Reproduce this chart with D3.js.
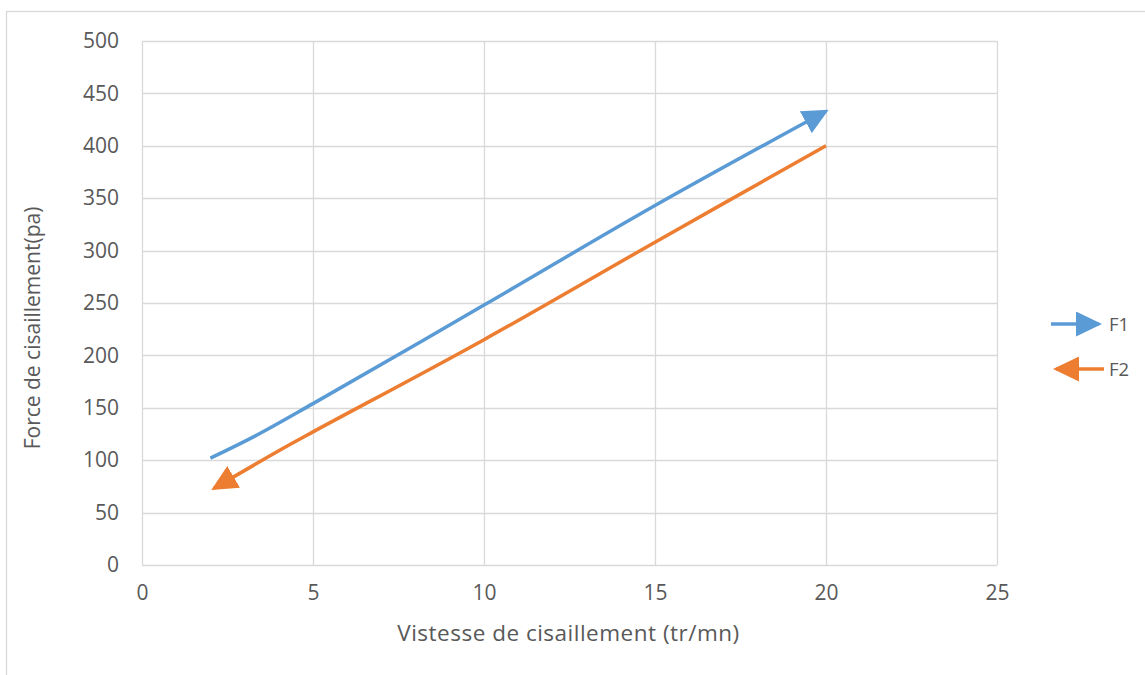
<!DOCTYPE html>
<html>
<head>
<meta charset="utf-8">
<script src="https://cdn.jsdelivr.net/npm/d3@7"></script>
<style>
  html, body { margin: 0; padding: 0; background: #ffffff; }
  svg { display: block; font-family: "Open Sans", "Noto Sans", sans-serif; }
</style>
</head>
<body>
<svg id="chart" width="1145" height="675"></svg>
<script>
// ---- data ----
const seriesNames = ["F1", "F2"];
const f1X = [2, 3.3, 5, 10, 15, 20];
const f1Y = [102, 123, 154, 248, 343, 433];
const f2X = [20, 15, 10, 5, 4, 2.1];
const f2Y = [400, 308, 215, 127, 109, 73];
const xTicks = [0, 5, 10, 15, 20, 25];
const yTicks = [0, 50, 100, 150, 200, 250, 300, 350, 400, 450, 500];
const xTitle = "Vistesse de cisaillement (tr/mn)";
const yTitle = "Force de cisaillement(pa)";

// ---- layout ----
const colors = ["#5b9bd5", "#ed7d31"];
const textColor = "#595959";
const gridColor = "#d9d9d9";
const svg = d3.select("#chart");
const plot = { left: 142, top: 41, right: 997, bottom: 565 };

const x = d3.scaleLinear().domain([0, 25]).range([plot.left, plot.right]);
const y = d3.scaleLinear().domain([0, 500]).range([plot.bottom, plot.top]);

// outer chart border (extends beyond the visible area on right/bottom)
svg.append("rect")
  .attr("x", 6.5).attr("y", 11.5)
  .attr("width", 1300).attr("height", 800)
  .attr("fill", "none").attr("stroke", gridColor).attr("stroke-width", 1.3);

// markers
const defs = svg.append("defs");
colors.forEach((c, i) => {
  defs.append("marker")
    .attr("id", "arrow" + i)
    .attr("markerUnits", "userSpaceOnUse")
    .attr("viewBox", "0 0 26 25")
    .attr("markerWidth", 26).attr("markerHeight", 25)
    .attr("refX", 23).attr("refY", 12.5)
    .attr("orient", "auto")
    .append("path")
    .attr("d", "M0,0 L26,12.5 L0,25 Z")
    .attr("fill", c);
});

// grid
const grid = svg.append("g");
grid.selectAll("line.h").data(yTicks).enter().append("line")
  .attr("x1", plot.left).attr("x2", plot.right)
  .attr("y1", d => Math.round(y(d)) + 0.5).attr("y2", d => Math.round(y(d)) + 0.5)
  .attr("stroke", gridColor).attr("stroke-width", 1.3);
grid.selectAll("line.v").data(xTicks).enter().append("line")
  .attr("y1", plot.top).attr("y2", plot.bottom)
  .attr("x1", d => Math.round(x(d)) + 0.5).attr("x2", d => Math.round(x(d)) + 0.5)
  .attr("stroke", gridColor).attr("stroke-width", 1.3);

// axes (labels only)
const yAxis = d3.axisLeft(y).tickValues(yTicks).tickSize(0).tickPadding(23);
const gy = svg.append("g").attr("transform", `translate(${plot.left},0)`).call(yAxis);
gy.select(".domain").remove();
gy.selectAll("text").attr("fill", textColor).style("font-size", "21px")
  .style("font-family", '"Open Sans", sans-serif');

const xAxis = d3.axisBottom(x).tickValues(xTicks).tickSize(0).tickPadding(20);
const gx = svg.append("g").attr("transform", `translate(0,${plot.bottom})`).call(xAxis);
gx.select(".domain").remove();
gx.selectAll("text").attr("fill", textColor).style("font-size", "21px")
  .style("font-family", '"Open Sans", sans-serif');

// titles
svg.append("text")
  .attr("x", (plot.left + plot.right) / 2 - 1).attr("y", 641)
  .attr("text-anchor", "middle").attr("fill", textColor)
  .style("font-size", "22.5px").style("letter-spacing", "0.5px").text(xTitle);
svg.append("text")
  .attr("transform", `translate(40,${(plot.top + plot.bottom) / 2 + 25}) rotate(-90)`)
  .attr("text-anchor", "middle").attr("fill", textColor)
  .style("font-size", "21px").text(yTitle);

// lines
const line = d3.line().x(d => x(d[0])).y(d => y(d[1])).curve(d3.curveCatmullRom.alpha(0.5));
const series = [
  f1X.map((v, i) => [v, f1Y[i]]),
  f2X.map((v, i) => [v, f2Y[i]])
];
series.forEach((pts, i) => {
  svg.append("path")
    .datum(pts)
    .attr("d", line)
    .attr("fill", "none")
    .attr("stroke", colors[i])
    .attr("stroke-width", 3.5)
    .attr("stroke-linejoin", "round")
    .attr("stroke-linecap", "butt")
    .attr("marker-end", `url(#arrow${i})`);
});

// legend
const legend = svg.append("g");
const legendRows = [
  { name: seriesNames[0], y: 324, x1: 1051, x2: 1099 },
  { name: seriesNames[1], y: 369, x1: 1104, x2: 1056 }
];
legendRows.forEach((r, i) => {
  legend.append("line")
    .attr("x1", r.x1).attr("x2", r.x2).attr("y1", r.y).attr("y2", r.y)
    .attr("stroke", colors[i]).attr("stroke-width", 3.5)
    .attr("marker-end", `url(#arrow${i})`);
  legend.append("text")
    .attr("x", 1109).attr("y", r.y + 7)
    .attr("fill", textColor).style("font-size", "18.5px")
    .text(r.name);
});
</script>
</body>
</html>
